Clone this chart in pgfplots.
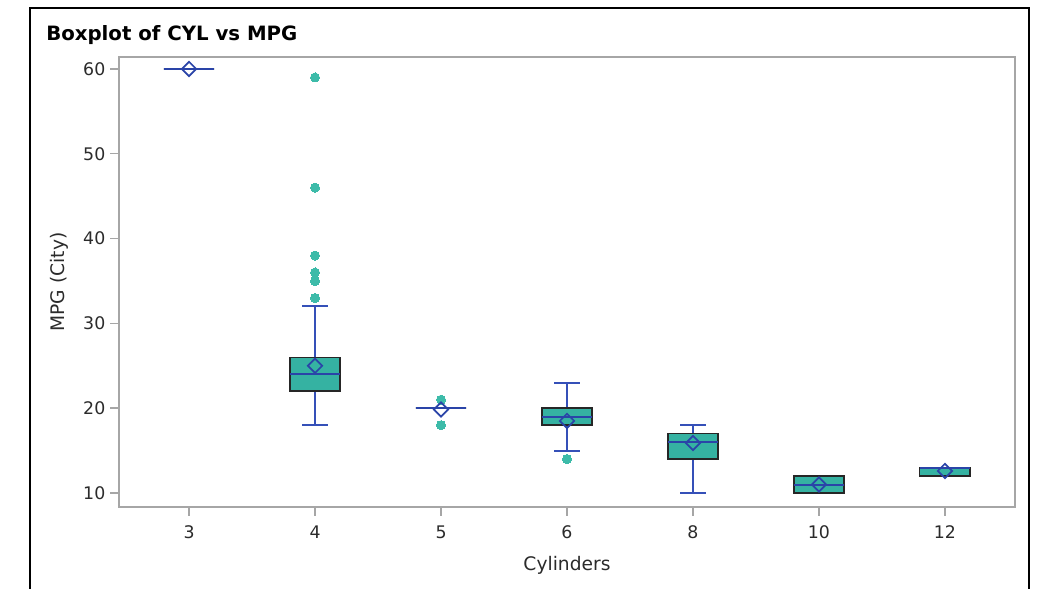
\documentclass[border=0pt]{standalone}
\usepackage{pgfplots}
\pgfplotsset{compat=1.18}
\usepgfplotslibrary{statistics}
\usepackage{fontspec}
\setmainfont{DejaVu Sans}
\definecolor{boxteal}{HTML}{35B2A2}
\definecolor{dotteal}{HTML}{3DBBA9}
\definecolor{wblue}{HTML}{3550B8}
\definecolor{mblue}{HTML}{2A44A8}
\definecolor{framegray}{HTML}{A6A6A6}
\definecolor{txt}{HTML}{2B2B2B}
\begin{document}
\begin{tikzpicture}
\useasboundingbox (0,0) rectangle (780pt,441.75pt);
\fill[white] (0,0) rectangle (780pt,441.75pt);
\draw[line width=1.6pt, black] (22.5pt,-10pt) -- (22.5pt,435.75pt) -- (771.75pt,435.75pt) -- (771.75pt,-10pt);
\node[anchor=base west, inner sep=0pt, font=\bfseries\fontsize{14.8}{17}\selectfont] at (34.5pt,411pt) {Boxplot of CYL vs MPG};
\begin{axis}[
 at={(89.25pt,61.5pt)}, anchor=south west,
 width=672pt, height=337.5pt, scale only axis,
 xmin=-0.556, xmax=6.556, ymin=8.35, ymax=61.41,
 xtick={0,...,6}, xticklabels={3,4,5,6,8,10,12},
 ytick={10,20,...,60},
 axis line style={framegray, line width=1.1pt},
 tick style={framegray, line width=1.1pt},
 major tick length=6.75pt, tick align=outside,
 xtick pos=bottom, ytick pos=left,
 ticklabel style={font=\fontsize{13}{15}\selectfont, text=txt},
 xticklabel style={yshift=-3.75pt},
 /pgf/number format/assume math mode=true,
 label style={font=\fontsize{14}{16}\selectfont, text=txt},
 xlabel={Cylinders}, ylabel={MPG (City)},
 xlabel style={yshift=-6pt},
 ylabel shift=4.5pt,
 boxplot/draw direction=y,
 boxplot/box extend=0.4, boxplot/whisker extend=0.2,
 boxplot/every box/.style={draw=black!85, fill=boxteal, line width=1.1pt},
 boxplot/every whisker/.style={draw=wblue, line width=1.5pt},
 boxplot/every median/.style={draw=mblue, line width=1.5pt},
 clip=false,
 myout/.style={solid, draw=wblue, mark=*, mark size=3.4pt, mark options={draw=dotteal, fill=dotteal, line width=0pt}},
]
% 3 cylinders
\addplot+[myout, boxplot prepared={draw position=0, lower whisker=60, lower quartile=60, median=60, upper quartile=60, upper whisker=60}] coordinates {};
% 4 cylinders
\addplot+[myout, boxplot prepared={draw position=1, lower whisker=18, lower quartile=22, median=24, upper quartile=26, upper whisker=32}] table[row sep=\\, y index=0] {data\\ 33\\ 35\\ 36\\ 38\\ 46\\ 59\\};
% 5 cylinders
\addplot+[myout, boxplot prepared={draw position=2, lower whisker=20, lower quartile=20, median=20, upper quartile=20, upper whisker=20}] table[row sep=\\, y index=0] {data\\ 18\\ 21\\};
% 6 cylinders
\addplot+[myout, boxplot prepared={draw position=3, lower whisker=15, lower quartile=18, median=19, upper quartile=20, upper whisker=23}] table[row sep=\\, y index=0] {data\\ 14\\};
% 8 cylinders
\addplot+[myout, boxplot prepared={draw position=4, lower whisker=10, lower quartile=14, median=16, upper quartile=17, upper whisker=18}] coordinates {};
% 10 cylinders
\addplot+[myout, boxplot prepared={draw position=5, lower whisker=10, lower quartile=10, median=11, upper quartile=12, upper whisker=12}] coordinates {};
% 12 cylinders
\addplot+[myout, boxplot prepared={draw position=6, lower whisker=12, lower quartile=12, median=13, upper quartile=13, upper whisker=13}] coordinates {};
% means
\addplot[only marks, mark=square, mark size=3.8pt, mark options={rotate=45, draw=mblue, line width=1.3pt, fill=none}] coordinates {(0,60) (1,25) (2,19.85) (3,18.5) (4,15.9) (5,11) (6,12.6)};
\end{axis}
\end{tikzpicture}
\end{document}
